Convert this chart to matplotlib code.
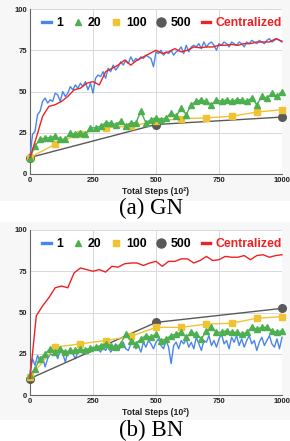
import matplotlib
matplotlib.use("Agg")
import matplotlib.pyplot as plt
from matplotlib.lines import Line2D
from matplotlib.patches import Rectangle
import numpy as np

# ---- data ----
steps_10 = np.arange(0, 1001, 10)
steps_20 = np.arange(0, 1001, 20)
steps_25 = np.arange(0, 1001, 25)
steps_100 = np.arange(0, 1001, 100)
steps_500 = [0, 500, 1000]

# (a) GN
gn_1 = [10, 24, 26, 36, 38, 44, 46, 43, 45, 44,
        49, 48, 44, 50, 47, 49, 53, 51, 54, 52,
        55, 53, 56, 51, 55, 49, 58, 60, 59, 62,
        58, 64, 62, 66, 63, 65, 68, 66, 69, 67,
        71, 68, 70, 69, 71, 70, 72, 71, 70, 65,
        74, 73, 75, 72, 74, 73, 75, 72, 74, 75,
        77, 73, 78, 74, 77, 78, 77, 79, 76, 80,
        77, 79, 80, 78, 75, 79, 78, 80, 79, 77,
        80, 79, 78, 80, 79, 77, 80, 79, 81, 80,
        79, 81, 80, 79, 81, 82, 80, 81, 82, 81, 80]
gn_20 = [10, 17, 21, 22, 22, 23, 21, 21, 25, 24,
         25, 24, 28, 28, 29, 31, 31, 30, 32, 29,
         31, 31, 38, 31, 33, 34, 33, 34, 37, 35,
         40, 36, 42, 44, 45, 44, 42, 45, 44, 45,
         44, 45, 45, 44, 46, 42, 47, 46, 49, 47, 50]
gn_100 = [10, 18, 24.5, 28, 29, 32, 33.5, 34, 35, 37.5, 39]
gn_500 = [10, 30, 34.5]
gn_central = [10, 22, 35, 41, 42, 44, 47, 51, 52, 55,
              56, 54, 62, 64, 66, 69, 66, 69, 71, 73,
              75, 73, 74, 76, 74, 75, 77, 76.5, 77, 77,
              78, 78, 78.5, 78, 79, 79, 80, 80, 80, 82, 80.5]

# (b) BN
bn_1 = [14, 22, 18, 24, 20, 23, 17, 22, 25, 24,
        26, 22, 27, 25, 20, 26, 27, 25, 22, 26,
        27, 27, 25, 28, 26, 29, 27, 28, 26, 29,
        27, 30, 26, 28, 31, 27, 29, 32, 28, 27,
        31, 33, 28, 30, 26, 32, 29, 33, 31, 28,
        32, 34, 30, 28, 33, 29, 19, 30, 32, 28,
        33, 31, 34, 29, 32, 28, 35, 31, 27, 33,
        32, 36, 30, 33, 29, 34, 37, 31, 33, 28,
        35, 32, 36, 30, 34, 29, 33, 36, 31, 33,
        27, 32, 35, 30, 33, 36, 31, 29, 34, 28, 35]
bn_20 = [12, 16, 22, 25, 28, 26, 28, 26, 27, 27,
         28, 27, 28.5, 29, 30, 31, 30, 29, 31, 37,
         33, 31, 34, 36, 35, 37, 33, 34, 36, 37,
         38, 35, 38, 37, 34, 39, 41, 38, 38, 39,
         38, 38, 37, 38, 41, 40, 41, 41, 39, 38, 39]
bn_100 = [11, 29, 31, 33, 35.5, 41, 41, 43, 43.5, 46.5, 47.5]
bn_500 = [10, 44, 52.5]
bn_central = [10, 48, 54, 59, 65, 66, 65, 74, 77, 76,
              75, 76, 74.5, 78, 77.5, 79.5, 80, 80, 78.5, 80,
              81, 78, 81, 81, 82.5, 82.5, 80, 81.5, 84, 81.5,
              82, 84, 83.5, 83.5, 84.5, 82, 84.5, 85, 83.5, 84.5, 85]

legend_labels = ["1", "20", "100", "500", "Centralized"]

BLUE = "#4a86e8"
GREEN = "#4caf50"
YELLOW = "#f1c232"
GRAY = "#595959"
RED = "#ee2222"

W, H = 290, 441
fig = plt.figure(figsize=(W / 100, H / 100), dpi=100)

# faint panel backgrounds behind each chart
fig.patches.append(Rectangle((0, 1 - 201 / H), 1, 201 / H, transform=fig.transFigure,
                             facecolor="#f7f7f7", edgecolor="none", zorder=-10))
fig.patches.append(Rectangle((0, 1 - 420 / H), 1, (420 - 222) / H, transform=fig.transFigure,
                             facecolor="#f7f7f7", edgecolor="none", zorder=-10))


def draw_panel(top_px, series, caption, caption_px):
    s1, s20, s100, s500, sc = series
    ax = fig.add_axes([30 / W, 1 - (top_px + 165) / H, 252 / W, 165 / H])
    ax.plot(steps_10, s1, color=BLUE, lw=1.0, zorder=3, clip_on=False)
    ax.plot(steps_500, s500, color=GRAY, lw=1.0, marker="o", ms=5.5, zorder=4, clip_on=False)
    ax.plot(steps_100, s100, color=YELLOW, lw=1.0, marker="s", ms=4, zorder=5, clip_on=False)
    ax.plot(steps_20, s20, color=GREEN, lw=1.0, marker="^", ms=4, zorder=6, clip_on=False)
    ax.plot(steps_25, sc, color=RED, lw=1.0, zorder=7, clip_on=False)

    ax.set_xlim(0, 1000)
    ax.set_ylim(0, 100)
    ax.set_xticks([0, 250, 500, 750, 1000])
    ax.set_yticks([0, 25, 50, 75, 100])
    ax.grid(color="#d9d9d9", lw=0.7)
    ax.set_axisbelow(True)
    for side in ("top", "right"):
        ax.spines[side].set_visible(False)
    for side in ("left", "bottom"):
        ax.spines[side].set_color("#666666")
        ax.spines[side].set_linewidth(0.8)
    ax.tick_params(length=0, pad=2, labelsize=5.5, colors="#222222")
    for lab in ax.get_xticklabels() + ax.get_yticklabels():
        lab.set_fontweight("bold")
        lab.set_family("Liberation Sans")
    ax.set_xlabel("Total Steps (10²)", fontsize=6.2, fontweight="bold",
                  family="Liberation Sans", labelpad=2, color="#222222")

    handles = [
        Line2D([], [], color=BLUE, lw=2.4),
        Line2D([], [], color=GREEN, lw=0, marker="^", ms=5),
        Line2D([], [], color=YELLOW, lw=0, marker="s", ms=5),
        Line2D([], [], color=GRAY, lw=0, marker="o", ms=6.5),
        Line2D([], [], color=RED, lw=2.4),
    ]
    leg = ax.legend(handles, legend_labels, loc="upper center", ncol=5, frameon=False,
                    bbox_to_anchor=(0.525, 1.0), handlelength=0.7, handletextpad=0.45,
                    columnspacing=0.85, borderaxespad=0.25,
                    prop={"family": "Liberation Sans", "weight": "bold", "size": 8.8})
    for txt in leg.get_texts():
        if txt.get_text() == "Centralized":
            txt.set_color(RED)
    fig.text(0.52, 1 - caption_px / H, caption, ha="center", va="center",
             family="Liberation Serif", fontsize=16.5)
    return ax


draw_panel(9, (gn_1, gn_20, gn_100, gn_500, gn_central), "(a) GN", 208)
draw_panel(230, (bn_1, bn_20, bn_100, bn_500, bn_central), "(b) BN", 430)

fig.savefig("out.png", dpi=100)
